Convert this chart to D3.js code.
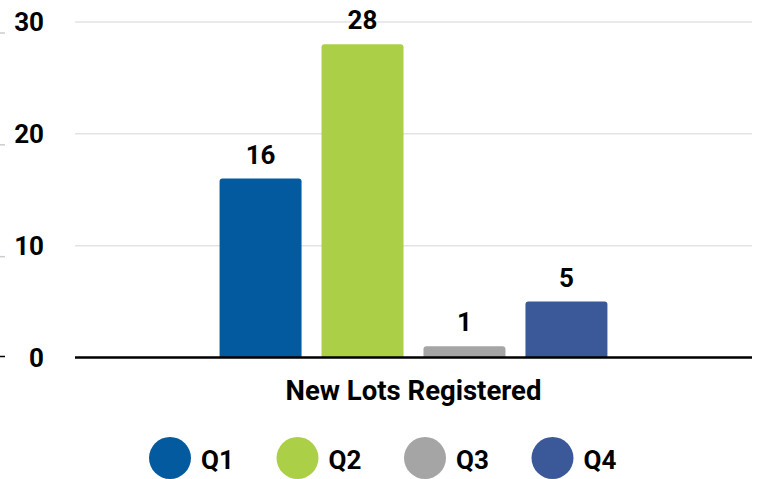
<!DOCTYPE html>
<html>
<head>
<meta charset="utf-8">
<style>
  body { margin: 0; background: #fff; }
  svg text { font-family: Roboto, "Liberation Sans", sans-serif; font-weight: bold; fill: #000; }
</style>
<title>New Lots Registered</title>
</head>
<body>
<script src="https://cdnjs.cloudflare.com/ajax/libs/d3/7.8.5/d3.min.js"></script>
<script>
  // data
  var categories = ["New Lots Registered"];
  var quarters = ["Q1", "Q2", "Q3", "Q4"];
  var values = [16, 28, 1, 5];
  var yTicks = [0, 10, 20, 30];
  var colors = ["#035a9e", "#abcf47", "#a5a5a5", "#3b5998"];

  var width = 761, height = 479;
  var plotLeft = 75, plotRight = 752, plotTop = 22, plotBottom = 357.5;

  var svg = d3.select("body").append("svg")
    .attr("width", width)
    .attr("height", height);

  var y = d3.scaleLinear().domain([0, 30]).range([plotBottom, plotTop]);

  // outer band for category, inner band for quarters
  var x0 = d3.scaleBand().domain(categories).range([plotLeft, plotRight])
    .paddingInner(0).paddingOuter(0.33);
  var x1 = d3.scaleBand().domain(quarters).range([0, x0.bandwidth()])
    .paddingInner(0.196).paddingOuter(0.098);

  // gridlines
  svg.append("g").selectAll("line")
    .data(yTicks.filter(function(d) { return d > 0; }))
    .enter().append("line")
    .attr("x1", plotLeft).attr("x2", plotRight)
    .attr("y1", function(d) { return y(d); })
    .attr("y2", function(d) { return y(d); })
    .attr("stroke", "#e3e3e3")
    .attr("stroke-width", 1.5);

  // small marks at the left edge
  svg.append("g").selectAll("line")
    .data(yTicks)
    .enter().append("line")
    .attr("x1", 0).attr("x2", 5)
    .attr("y1", function(d) { return y(d) + (d === 0 ? -1 : 11); })
    .attr("y2", function(d) { return y(d) + (d === 0 ? -1 : 11); })
    .attr("stroke", function(d) { return d === 0 ? "#000" : "#ccc"; })
    .attr("stroke-width", 1.5);

  // y labels
  svg.append("g").selectAll("text")
    .data(yTicks)
    .enter().append("text")
    .attr("x", 44)
    .attr("y", function(d) { return y(d); })
    .attr("dy", "0.36em")
    .attr("text-anchor", "end")
    .style("font-size", "26px")
    .text(function(d) { return d; });

  // bars
  var g = svg.append("g")
    .attr("transform", "translate(" + x0(categories[0]) + ",0)");

  g.selectAll("path.bar")
    .data(values)
    .enter().append("path")
    .attr("class", "bar")
    .attr("fill", function(d, i) { return colors[i]; })
    .attr("d", function(d, i) {
      var bx = x1(quarters[i]), bw = x1.bandwidth();
      var by = y(d), bh = y(0) - y(d), r = Math.min(3, bh);
      return "M" + bx + "," + (by + bh) +
        "V" + (by + r) + "Q" + bx + "," + by + " " + (bx + r) + "," + by +
        "H" + (bx + bw - r) + "Q" + (bx + bw) + "," + by + " " + (bx + bw) + "," + (by + r) +
        "V" + (by + bh) + "Z";
    });

  // value labels
  g.selectAll("text.val")
    .data(values)
    .enter().append("text")
    .attr("class", "val")
    .attr("x", function(d, i) { return x1(quarters[i]) + x1.bandwidth() / 2; })
    .attr("y", function(d) { return y(d) - 15; })
    .attr("text-anchor", "middle")
    .style("font-size", "26px")
    .text(function(d) { return d; });

  // baseline
  svg.append("line")
    .attr("x1", plotLeft).attr("x2", plotRight)
    .attr("y1", y(0)).attr("y2", y(0))
    .attr("stroke", "#000")
    .attr("stroke-width", 2.5);

  // category label
  svg.append("text")
    .attr("x", x0(categories[0]) + x0.bandwidth() / 2)
    .attr("y", 400)
    .attr("text-anchor", "middle")
    .style("font-size", "27.5px")
    .text(categories[0]);

  // legend
  var legend = svg.append("g").selectAll("g")
    .data(quarters)
    .enter().append("g")
    .attr("transform", function(d, i) { return "translate(" + (170 + i * 127.5) + ",458)"; });

  legend.append("circle")
    .attr("r", 21)
    .attr("fill", function(d, i) { return colors[i]; });

  legend.append("text")
    .attr("x", 31)
    .attr("y", 11)
    .style("font-size", "26px")
    .text(function(d) { return d; });
</script>
</body>
</html>
